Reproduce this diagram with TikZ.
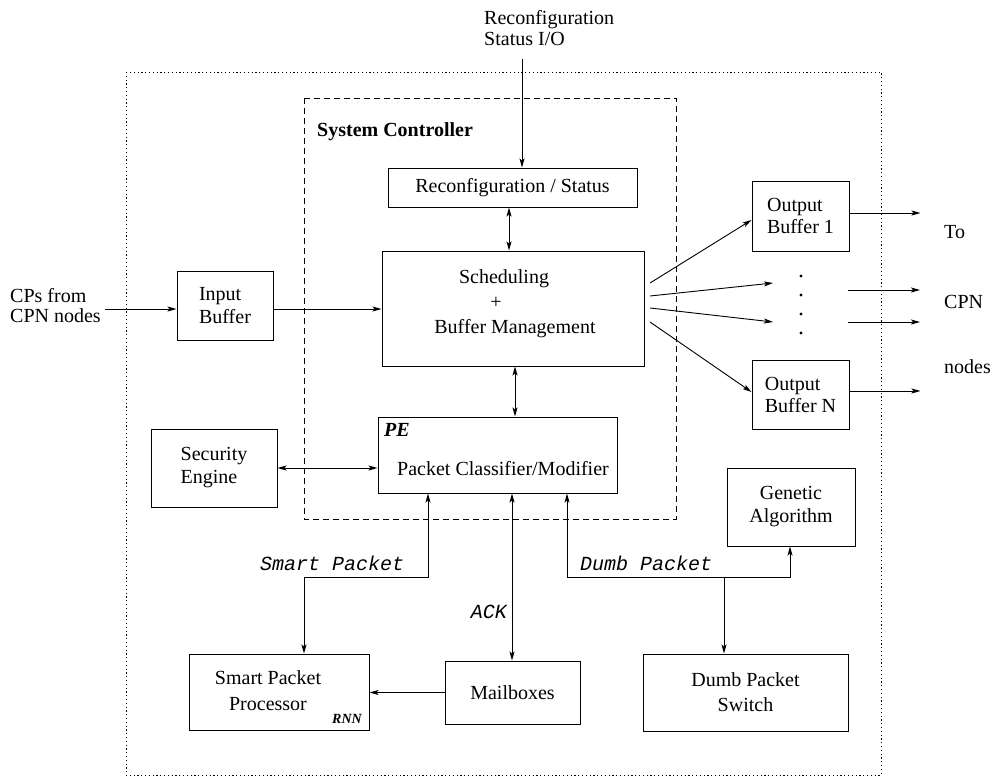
\documentclass[tikz,border=0pt]{standalone}
\usepackage{fontspec}
\setmainfont{Liberation Serif}
\setmonofont{Liberation Mono}
\usetikzlibrary{arrows.meta}

\begin{document}
\begin{tikzpicture}[x=1pt, y=-1pt,
  every node/.style={font=\fontsize{20}{23}\selectfont, inner sep=0pt},
  box/.style={draw, line width=1pt, rectangle, align=center},
  head/.tip={Stealth[length=9pt, width=5pt, inset=2pt]},
  conn/.style={line width=0.9pt, -head},
  dconn/.style={line width=0.9pt, head-head},
  outerframe/.style={line width=1pt, dash pattern=on 1.2pt off 2.6pt},
  ctrlframe/.style={line width=0.9pt, dash pattern=on 6pt off 4pt},
  pkt/.style={font=\fontsize{20}{23}\selectfont\ttfamily\itshape, anchor=base west},
  bolditalic/.style={font=\fontsize{20}{23}\selectfont\bfseries\itshape},
]
\useasboundingbox (0,0) rectangle (995,777);

% enclosing frames
\draw[outerframe] (126,72) rectangle (881,775);
\draw[ctrlframe] (304,98) rectangle (676,519);
\node[anchor=base west, font=\fontsize{20}{23}\selectfont\bfseries] (sysctl) at (317,136) {System Controller};

% system controller blocks
\node[box, minimum width=249pt, minimum height=39pt] (recon) at (512.5,187.5) {Reconfiguration / Status};
\node[box, minimum width=262pt, minimum height=115pt] (sched) at (513,308.5) {};
\node[anchor=base] (schedA) at (504,283) {Scheduling};
\node[anchor=base] (schedB) at (496,308) {+};
\node[anchor=base] (schedC) at (515,333) {Buffer Management};
\node[box, minimum width=239pt, minimum height=76pt] (pe) at (497.5,455) {};
\node[bolditalic, anchor=base west] (petag) at (384,436) {PE};
\node[anchor=base] (petext) at (503,475) {Packet Classifier/Modifier};

% blocks around the controller
\node[box, align=left, minimum width=126pt, minimum height=78pt] (sec) at (214,468) {Security\\Engine};
\node[box, align=left, minimum width=96pt, minimum height=69pt] (inbuf) at (225,305.5) {Input\\Buffer};
\node[box, align=left, minimum width=97pt, minimum height=70pt, font=\fontsize{20}{22}\selectfont] (ob1) at (800.5,216) {Output\\Buffer 1};
\node[box, align=left, minimum width=97pt, minimum height=69pt, font=\fontsize{20}{22}\selectfont] (obN) at (800.5,394.5) {Output\\Buffer N};
\node[box, minimum width=128pt, minimum height=78pt] (ga) at (791,507) {Genetic\\Algorithm};
\node[box, minimum width=180pt, minimum height=76pt] (spp) at (279,692) {};
\node[align=center, font=\fontsize{20}{26}\selectfont] (spptext) at (268,691) {Smart Packet\\Processor};
\node[bolditalic, font=\fontsize{14}{14}\selectfont\bfseries\itshape, anchor=base east] (rnn) at (362,723) {RNN};
\node[box, minimum width=135pt, minimum height=63pt] (mail) at (512.5,692.5) {Mailboxes};
\node[box, minimum width=205pt, minimum height=77pt, font=\fontsize{20}{25}\selectfont] (dps) at (745.5,692.5) {Dumb Packet\\Switch};

% outside texts
\node[align=left, anchor=west, font=\fontsize{20}{21}\selectfont] (rio) at (484,28) {Reconfiguration\\Status I/O};
\node[align=left, anchor=west, font=\fontsize{20}{20}\selectfont] (cps) at (10,306) {CPs from\\CPN nodes};
\node[anchor=base west] (lblTo) at (944,238) {To};
\node[anchor=base west] (lblCPN) at (944,308) {CPN};
\node[anchor=base west] (lblNodes) at (944,373) {nodes};

% reference coordinates for connector rows and columns
\coordinate (rioTail) at (522,59);
\coordinate (inRow) at (0,309);
\coordinate (rsCol) at (509,0);
\coordinate (spCol) at (515,0);
\coordinate (smartCol) at (428,0);
\coordinate (sppCol) at (304,0);
\coordinate (ackCol) at (512,0);
\coordinate (dumbCol) at (567,0);
\coordinate (gaCol) at (790,0);
\coordinate (dpsCol) at (724,0);
\coordinate (busRow) at (0,577);
\coordinate (fanA) at (650,283);
\coordinate (fanB) at (650,296);
\coordinate (fanC) at (650,308);
\coordinate (fanD) at (650,322);
\coordinate (dotA) at (773,283);
\coordinate (dotB) at (773,322);
\coordinate (midA) at (848,290);
\coordinate (midB) at (848,322);

% connectors
\draw[conn] (rioTail) -- (recon.north -| rioTail);
\draw[dconn] (recon.south -| rsCol) -- (sched.north -| rsCol);
\draw[dconn] (sched.south -| spCol) -- (pe.north -| spCol);
\draw[dconn] (sec.east) -- (pe.west |- sec.east);
\draw[conn] ([xshift=4pt]cps.east |- inRow) -- (inbuf.west |- inRow);
\draw[conn] (inbuf.east |- inRow) -- (sched.west |- inRow);

\draw[conn] (fanA) -- ([yshift=-4pt]ob1.west);
\draw[conn] (fanB) -- (dotA);
\draw[conn] (fanC) -- (dotB);
\draw[conn] (fanD) -- ([yshift=2.5pt]obN.west);

\draw[conn] ([yshift=3pt]ob1.east) -- ++(71,0);
\draw[conn] (midA) -- ++(72,0);
\draw[conn] (midB) -- ++(72,0);
\draw[conn] ([yshift=3.5pt]obN.east) -- ++(71,0);

\foreach \yy in {276,295,314,333} \fill (801,\yy) circle (1.6pt);

\draw[dconn] (spp.north -| sppCol) -- (sppCol |- busRow) -- (smartCol |- busRow) -- (pe.south -| smartCol);
\draw[dconn] (pe.south -| ackCol) -- (mail.north -| ackCol);
\draw[dconn] (pe.south -| dumbCol) -- (dumbCol |- busRow) -- (gaCol |- busRow) -- (ga.south -| gaCol);
\draw[conn] (dpsCol |- busRow) -- (dps.north -| dpsCol);
\draw[conn] (mail.west) -- (spp.east |- mail.west);

% connector labels
\node[pkt] (lblSmart) at (260,570) {Smart Packet};
\node[pkt] (lblDumb) at (580,570) {Dumb Packet};
\node[pkt, anchor=base east] (lblAck) at (507,618) {ACK};
\end{tikzpicture}
\end{document}
